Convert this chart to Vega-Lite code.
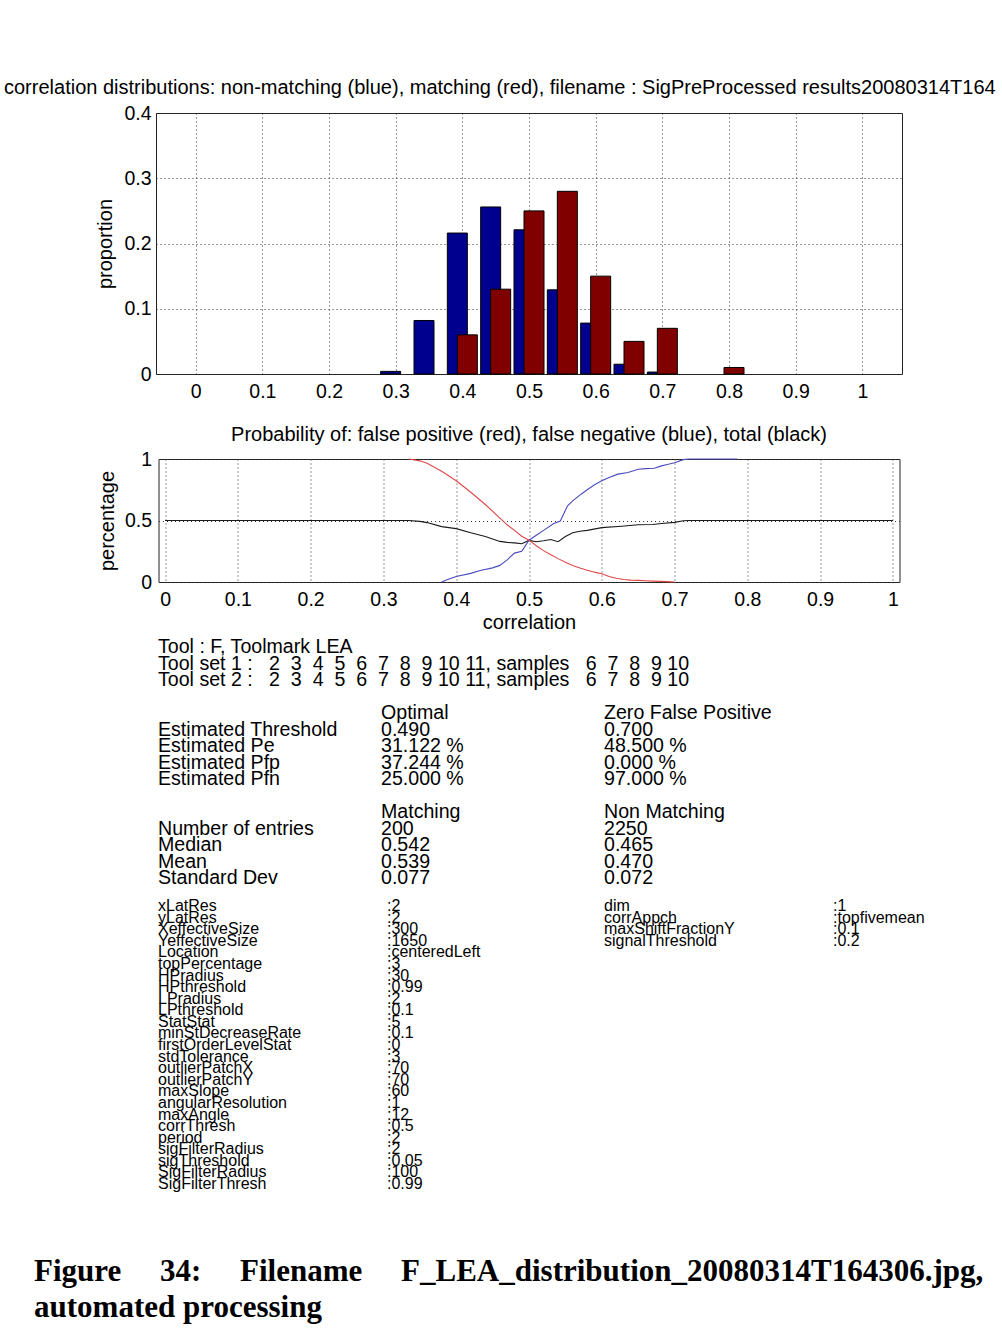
{
  "$schema": "https://vega.github.io/schema/vega-lite/v6.json",
  "background": "white",
  "padding": {"left": 3, "top": 77, "right": 0, "bottom": 0},
  "bounds": "flush",
  "center": true,
  "spacing": 85,
  "config": {
    "font": "Liberation Sans",
    "view": {"stroke": "#222", "strokeWidth": 1},
    "axis": {
      "labelFont": "Liberation Sans", "labelFontSize": 19.5, "labelColor": "#000",
      "titleFont": "Liberation Sans", "titleFontSize": 20, "titleFontWeight": "normal", "titleColor": "#000",
      "ticks": false, "domain": false,
      "gridColor": "#333", "gridDash": [1, 3], "gridOpacity": 1, "gridWidth": 1,
      "labelFlush": false, "labelOverlap": false, "labelBound": false
    },
    "title": {"font": "Liberation Sans", "fontSize": 20, "fontWeight": "normal", "color": "#000"}
  },
  "datasets": {
    "hist": [
      {"set": "non-matching", "correlation": 0.3, "proportion": 0.004},
      {"set": "non-matching", "correlation": 0.35, "proportion": 0.082},
      {"set": "non-matching", "correlation": 0.4, "proportion": 0.216},
      {"set": "non-matching", "correlation": 0.45, "proportion": 0.256},
      {"set": "non-matching", "correlation": 0.5, "proportion": 0.221},
      {"set": "non-matching", "correlation": 0.55, "proportion": 0.129},
      {"set": "non-matching", "correlation": 0.6, "proportion": 0.078},
      {"set": "non-matching", "correlation": 0.65, "proportion": 0.015},
      {"set": "non-matching", "correlation": 0.7, "proportion": 0.003},
      {"set": "matching", "correlation": 0.4, "proportion": 0.06},
      {"set": "matching", "correlation": 0.45, "proportion": 0.13},
      {"set": "matching", "correlation": 0.5, "proportion": 0.25},
      {"set": "matching", "correlation": 0.55, "proportion": 0.28},
      {"set": "matching", "correlation": 0.6, "proportion": 0.15},
      {"set": "matching", "correlation": 0.65, "proportion": 0.05},
      {"set": "matching", "correlation": 0.7, "proportion": 0.07},
      {"set": "matching", "correlation": 0.8, "proportion": 0.01}
    ],
    "curves": [
      {"series": "total", "correlation": 0, "p": 0.5},
      {"series": "total", "correlation": 0.335, "p": 0.5},
      {"series": "total", "correlation": 0.35, "p": 0.493},
      {"series": "total", "correlation": 0.36, "p": 0.483},
      {"series": "total", "correlation": 0.38, "p": 0.45},
      {"series": "total", "correlation": 0.4, "p": 0.434},
      {"series": "total", "correlation": 0.42, "p": 0.4},
      {"series": "total", "correlation": 0.44, "p": 0.37},
      {"series": "total", "correlation": 0.46, "p": 0.33},
      {"series": "total", "correlation": 0.47, "p": 0.322},
      {"series": "total", "correlation": 0.48, "p": 0.318},
      {"series": "total", "correlation": 0.49, "p": 0.311},
      {"series": "total", "correlation": 0.5, "p": 0.338},
      {"series": "total", "correlation": 0.51, "p": 0.327},
      {"series": "total", "correlation": 0.52, "p": 0.335},
      {"series": "total", "correlation": 0.53, "p": 0.345},
      {"series": "total", "correlation": 0.54, "p": 0.328},
      {"series": "total", "correlation": 0.55, "p": 0.37},
      {"series": "total", "correlation": 0.56, "p": 0.4},
      {"series": "total", "correlation": 0.57, "p": 0.413},
      {"series": "total", "correlation": 0.58, "p": 0.42},
      {"series": "total", "correlation": 0.6, "p": 0.442},
      {"series": "total", "correlation": 0.627, "p": 0.453},
      {"series": "total", "correlation": 0.65, "p": 0.465},
      {"series": "total", "correlation": 0.67, "p": 0.468},
      {"series": "total", "correlation": 0.682, "p": 0.475},
      {"series": "total", "correlation": 0.7, "p": 0.485},
      {"series": "total", "correlation": 0.712, "p": 0.498},
      {"series": "total", "correlation": 0.72, "p": 0.5},
      {"series": "total", "correlation": 1, "p": 0.5},
      {"series": "false negative", "correlation": 0.38, "p": 0},
      {"series": "false negative", "correlation": 0.39, "p": 0.025},
      {"series": "false negative", "correlation": 0.4, "p": 0.045},
      {"series": "false negative", "correlation": 0.42, "p": 0.07},
      {"series": "false negative", "correlation": 0.433, "p": 0.093},
      {"series": "false negative", "correlation": 0.45, "p": 0.115},
      {"series": "false negative", "correlation": 0.46, "p": 0.135},
      {"series": "false negative", "correlation": 0.47, "p": 0.18},
      {"series": "false negative", "correlation": 0.48, "p": 0.235},
      {"series": "false negative", "correlation": 0.49, "p": 0.25},
      {"series": "false negative", "correlation": 0.5, "p": 0.34},
      {"series": "false negative", "correlation": 0.51, "p": 0.38},
      {"series": "false negative", "correlation": 0.52, "p": 0.42},
      {"series": "false negative", "correlation": 0.534, "p": 0.475},
      {"series": "false negative", "correlation": 0.543, "p": 0.496},
      {"series": "false negative", "correlation": 0.553, "p": 0.62},
      {"series": "false negative", "correlation": 0.56, "p": 0.66},
      {"series": "false negative", "correlation": 0.572, "p": 0.716},
      {"series": "false negative", "correlation": 0.58, "p": 0.75},
      {"series": "false negative", "correlation": 0.59, "p": 0.79},
      {"series": "false negative", "correlation": 0.6, "p": 0.823},
      {"series": "false negative", "correlation": 0.61, "p": 0.85},
      {"series": "false negative", "correlation": 0.622, "p": 0.877},
      {"series": "false negative", "correlation": 0.636, "p": 0.89},
      {"series": "false negative", "correlation": 0.65, "p": 0.917},
      {"series": "false negative", "correlation": 0.66, "p": 0.922},
      {"series": "false negative", "correlation": 0.672, "p": 0.925},
      {"series": "false negative", "correlation": 0.682, "p": 0.944},
      {"series": "false negative", "correlation": 0.69, "p": 0.955},
      {"series": "false negative", "correlation": 0.7, "p": 0.97},
      {"series": "false negative", "correlation": 0.712, "p": 0.995},
      {"series": "false negative", "correlation": 0.72, "p": 1},
      {"series": "false negative", "correlation": 0.786, "p": 1},
      {"series": "false positive", "correlation": 0.335, "p": 1},
      {"series": "false positive", "correlation": 0.35, "p": 0.985},
      {"series": "false positive", "correlation": 0.36, "p": 0.965},
      {"series": "false positive", "correlation": 0.38, "p": 0.9},
      {"series": "false positive", "correlation": 0.4, "p": 0.823},
      {"series": "false positive", "correlation": 0.42, "p": 0.73},
      {"series": "false positive", "correlation": 0.44, "p": 0.63},
      {"series": "false positive", "correlation": 0.46, "p": 0.52},
      {"series": "false positive", "correlation": 0.47, "p": 0.465},
      {"series": "false positive", "correlation": 0.48, "p": 0.42},
      {"series": "false positive", "correlation": 0.49, "p": 0.372},
      {"series": "false positive", "correlation": 0.5, "p": 0.34},
      {"series": "false positive", "correlation": 0.51, "p": 0.295},
      {"series": "false positive", "correlation": 0.52, "p": 0.255},
      {"series": "false positive", "correlation": 0.53, "p": 0.222},
      {"series": "false positive", "correlation": 0.54, "p": 0.19},
      {"series": "false positive", "correlation": 0.55, "p": 0.16},
      {"series": "false positive", "correlation": 0.56, "p": 0.135},
      {"series": "false positive", "correlation": 0.57, "p": 0.113},
      {"series": "false positive", "correlation": 0.58, "p": 0.095},
      {"series": "false positive", "correlation": 0.59, "p": 0.08},
      {"series": "false positive", "correlation": 0.6, "p": 0.067},
      {"series": "false positive", "correlation": 0.61, "p": 0.045},
      {"series": "false positive", "correlation": 0.62, "p": 0.03},
      {"series": "false positive", "correlation": 0.63, "p": 0.02},
      {"series": "false positive", "correlation": 0.64, "p": 0.015},
      {"series": "false positive", "correlation": 0.65, "p": 0.013},
      {"series": "false positive", "correlation": 0.66, "p": 0.01},
      {"series": "false positive", "correlation": 0.67, "p": 0.007},
      {"series": "false positive", "correlation": 0.68, "p": 0.005},
      {"series": "false positive", "correlation": 0.69, "p": 0.003},
      {"series": "false positive", "correlation": 0.7, "p": 0}
    ],
    "summary": [
      {"line": 0, "col": 0, "text": "Tool : F, Toolmark LEA"},
      {"line": 1, "col": 0, "text": "Tool\u00a0set\u00a01\u00a0:\u00a0\u00a0\u00a02\u00a0\u00a03\u00a0\u00a04\u00a0\u00a05\u00a0\u00a06\u00a0\u00a07\u00a0\u00a08\u00a0\u00a09\u00a010\u00a011,\u00a0samples\u00a0\u00a0\u00a06\u00a0\u00a07\u00a0\u00a08\u00a0\u00a09\u00a010"},
      {"line": 2, "col": 0, "text": "Tool\u00a0set\u00a02\u00a0:\u00a0\u00a0\u00a02\u00a0\u00a03\u00a0\u00a04\u00a0\u00a05\u00a0\u00a06\u00a0\u00a07\u00a0\u00a08\u00a0\u00a09\u00a010\u00a011,\u00a0samples\u00a0\u00a0\u00a06\u00a0\u00a07\u00a0\u00a08\u00a0\u00a09\u00a010"},
      {"line": 4, "col": 1, "text": "Optimal"},
      {"line": 4, "col": 2, "text": "Zero False Positive"},
      {"line": 5, "col": 0, "text": "Estimated Threshold"},
      {"line": 5, "col": 1, "text": "0.490"},
      {"line": 5, "col": 2, "text": "0.700"},
      {"line": 6, "col": 0, "text": "Estimated Pe"},
      {"line": 6, "col": 1, "text": "31.122 %"},
      {"line": 6, "col": 2, "text": "48.500 %"},
      {"line": 7, "col": 0, "text": "Estimated Pfp"},
      {"line": 7, "col": 1, "text": "37.244 %"},
      {"line": 7, "col": 2, "text": "0.000 %"},
      {"line": 8, "col": 0, "text": "Estimated Pfn"},
      {"line": 8, "col": 1, "text": "25.000 %"},
      {"line": 8, "col": 2, "text": "97.000 %"},
      {"line": 10, "col": 1, "text": "Matching"},
      {"line": 10, "col": 2, "text": "Non Matching"},
      {"line": 11, "col": 0, "text": "Number of entries"},
      {"line": 11, "col": 1, "text": "\u2002200"},
      {"line": 11, "col": 2, "text": "2250"},
      {"line": 12, "col": 0, "text": "Median"},
      {"line": 12, "col": 1, "text": "0.542"},
      {"line": 12, "col": 2, "text": "0.465"},
      {"line": 13, "col": 0, "text": "Mean"},
      {"line": 13, "col": 1, "text": "0.539"},
      {"line": 13, "col": 2, "text": "0.470"},
      {"line": 14, "col": 0, "text": "Standard Dev"},
      {"line": 14, "col": 1, "text": "0.077"},
      {"line": 14, "col": 2, "text": "0.072"}
    ],
    "params": [
      {"line": 0, "col": 0, "name": "xLatRes", "value": "2"},
      {"line": 1, "col": 0, "name": "yLatRes", "value": "2"},
      {"line": 2, "col": 0, "name": "XeffectiveSize", "value": "300"},
      {"line": 3, "col": 0, "name": "YeffectiveSize", "value": "1650"},
      {"line": 4, "col": 0, "name": "Location", "value": "centeredLeft"},
      {"line": 5, "col": 0, "name": "topPercentage", "value": "3"},
      {"line": 6, "col": 0, "name": "HPradius", "value": "30"},
      {"line": 7, "col": 0, "name": "HPthreshold", "value": "0.99"},
      {"line": 8, "col": 0, "name": "LPradius", "value": "2"},
      {"line": 9, "col": 0, "name": "LPthreshold", "value": "0.1"},
      {"line": 10, "col": 0, "name": "StatStat", "value": "5"},
      {"line": 11, "col": 0, "name": "minStDecreaseRate", "value": "0.1"},
      {"line": 12, "col": 0, "name": "firstOrderLevelStat", "value": "0"},
      {"line": 13, "col": 0, "name": "stdTolerance", "value": "3"},
      {"line": 14, "col": 0, "name": "outlierPatchX", "value": "70"},
      {"line": 15, "col": 0, "name": "outlierPatchY", "value": "70"},
      {"line": 16, "col": 0, "name": "maxSlope", "value": "60"},
      {"line": 17, "col": 0, "name": "angularResolution", "value": "1"},
      {"line": 18, "col": 0, "name": "maxAngle", "value": "12"},
      {"line": 19, "col": 0, "name": "corrThresh", "value": "0.5"},
      {"line": 20, "col": 0, "name": "period", "value": "2"},
      {"line": 21, "col": 0, "name": "sigFilterRadius", "value": "2"},
      {"line": 22, "col": 0, "name": "sigThreshold", "value": "0.05"},
      {"line": 23, "col": 0, "name": "SigFilterRadius", "value": "100"},
      {"line": 24, "col": 0, "name": "SigFilterThresh", "value": "0.99"},
      {"line": 0, "col": 2, "name": "dim", "value": "1"},
      {"line": 1, "col": 2, "name": "corrAppch", "value": "topfivemean"},
      {"line": 2, "col": 2, "name": "maxShiftFractionY", "value": "0.1"},
      {"line": 3, "col": 2, "name": "signalThreshold", "value": "0.2"}
    ],
    "caption": [
      {"line": 0, "col": 0, "text": "Figure\u00a0\u00a0\u00a0\u00a0\u00a034:\u00a0\u00a0\u00a0\u00a0\u00a0Filename\u00a0\u00a0\u00a0\u00a0\u00a0F_LEA_distribution_20080314T164306.jpg,"},
      {"line": 1, "col": 0, "text": "automated processing"}
    ]
  },
  "vconcat": [
    {
      "width": 746,
      "height": 261,
      "title": {
        "text": "correlation distributions: non-matching (blue), matching (red), filename : SigPreProcessed results20080314T164",
        "anchor": "start", "frame": "group", "dx": -152, "offset": 5
      },
      "data": {"name": "hist"},
      "encoding": {
        "x": {
          "field": "correlation", "type": "quantitative",
          "scale": {"domain": [-0.052, 1.052], "nice": false, "zero": false},
          "axis": {"values": [0, 0.1, 0.2, 0.3, 0.4, 0.5, 0.6, 0.7, 0.8, 0.9, 1], "format": "~g", "title": null, "labelPadding": 8, "grid": true}
        },
        "y": {
          "field": "proportion", "type": "quantitative",
          "scale": {"domain": [0, 0.4], "nice": false},
          "axis": {"values": [0, 0.1, 0.2, 0.3, 0.4], "format": "~g", "title": "proportion", "labelPadding": 5, "titlePadding": 8, "grid": true}
        }
      },
      "layer": [
        {
          "transform": [{"filter": "datum.set === 'non-matching'"}],
          "mark": {"type": "bar", "width": 20, "xOffset": -5, "fill": "#00008F", "stroke": "#000", "strokeWidth": 1}
        },
        {
          "transform": [{"filter": "datum.set === 'matching'"}],
          "mark": {"type": "bar", "width": 20, "xOffset": 5, "fill": "#800000", "stroke": "#000", "strokeWidth": 1}
        }
      ]
    },
    {
      "width": 741,
      "height": 123,
      "title": {
        "text": "Probability of: false positive (red), false negative (blue), total (black)",
        "anchor": "middle", "frame": "group", "offset": 4
      },
      "data": {"name": "curves"},
      "mark": {"type": "line", "strokeWidth": 1.1},
      "encoding": {
        "x": {
          "field": "correlation", "type": "quantitative",
          "scale": {"domain": [-0.009, 1.009], "nice": false, "zero": false},
          "axis": {"values": [0, 0.1, 0.2, 0.3, 0.4, 0.5, 0.6, 0.7, 0.8, 0.9, 1], "format": "~g", "title": "correlation", "labelPadding": 8, "titlePadding": 4, "grid": true}
        },
        "y": {
          "field": "p", "type": "quantitative",
          "scale": {"domain": [0, 1], "nice": false},
          "axis": {"values": [0, 0.5, 1], "format": "~g", "title": "percentage", "labelPadding": 7, "titlePadding": 7, "grid": true}
        },
        "color": {
          "field": "series", "type": "nominal",
          "scale": {"domain": ["total", "false negative", "false positive"], "range": ["#1a1a1a", "#4a4ac0", "#e04848"]},
          "legend": null
        }
      }
    },
    {
      "width": 746,
      "height": 660,
      "view": {"stroke": null},
      "layer": [
        {
          "data": {"name": "summary"},
          "mark": {"type": "text", "align": "left", "baseline": "middle", "fontSize": 19.6, "font": "Liberation Sans", "color": "#000"},
          "encoding": {
            "x": {"field": "col", "type": "quantitative", "scale": {"domain": [0, 2], "range": [2, 448], "nice": false, "zero": false}, "axis": null},
            "y": {"field": "line", "type": "quantitative", "scale": {"domain": [0, 14], "range": [-20, 211], "nice": false, "zero": false}, "axis": null},
            "text": {"field": "text"}
          }
        },
        {
          "data": {"name": "params"},
          "mark": {"type": "text", "align": "left", "baseline": "middle", "fontSize": 16, "font": "Liberation Sans", "color": "#000"},
          "encoding": {
            "x": {"field": "col", "type": "quantitative", "scale": {"domain": [0, 2], "range": [2, 448], "nice": false, "zero": false}, "axis": null},
            "y": {"field": "line", "type": "quantitative", "scale": {"domain": [0, 24], "range": [239, 517], "nice": false, "zero": false}, "axis": null},
            "text": {"field": "name"}
          }
        },
        {
          "data": {"name": "params"},
          "transform": [{"calculate": "':' + datum.value", "as": "shown"}],
          "mark": {"type": "text", "align": "left", "baseline": "middle", "fontSize": 16, "font": "Liberation Sans", "color": "#000", "dx": 229},
          "encoding": {
            "x": {"field": "col", "type": "quantitative", "scale": {"domain": [0, 2], "range": [2, 448], "nice": false, "zero": false}, "axis": null},
            "y": {"field": "line", "type": "quantitative", "scale": {"domain": [0, 24], "range": [239, 517], "nice": false, "zero": false}, "axis": null},
            "text": {"field": "shown"}
          }
        },
        {
          "data": {"name": "caption"},
          "mark": {"type": "text", "align": "left", "baseline": "middle", "fontSize": 31, "font": "Liberation Serif", "fontWeight": "bold", "color": "#000", "dx": -124},
          "encoding": {
            "x": {"field": "col", "type": "quantitative", "scale": {"domain": [0, 2], "range": [2, 448], "nice": false, "zero": false}, "axis": null},
            "y": {"field": "line", "type": "quantitative", "scale": {"domain": [0, 1], "range": [605, 641], "nice": false, "zero": false}, "axis": null},
            "text": {"field": "text"}
          }
        }
      ],
      "resolve": {"scale": {"x": "independent", "y": "independent"}}
    }
  ]
}
